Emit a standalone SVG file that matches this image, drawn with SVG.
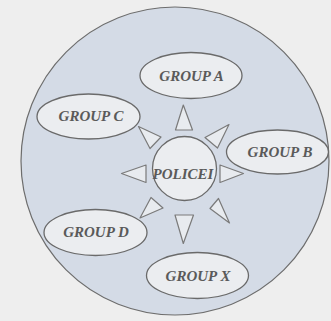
<svg xmlns="http://www.w3.org/2000/svg" width="331" height="321" viewBox="0 0 331 321">
<style>
.grp ellipse{fill:#ebedf0;stroke:#6a6a6a;stroke-width:1.3}
.lbl{font-family:"Liberation Serif","Times New Roman",serif;font-style:italic;font-weight:bold;font-size:15px;fill:#5a5a5a;text-anchor:middle}
.tri polygon{fill:#e8ebef;stroke:#7a7a7a;stroke-width:1.2;stroke-linejoin:round}
</style>
<rect x="0" y="0" width="331" height="321" fill="#eeeeee"/>
<circle id="frame" cx="175" cy="161" r="154" fill="#d4dbe6" stroke="#6d6d6d" stroke-width="1.2"/>
<g id="connectors" class="tri">
<polygon points="183.3,105 175.5,130 192.5,130"/>
<polygon points="229,124.5 205,137.5 217.5,148"/>
<polygon points="243.5,173.5 220,165 220,182.5"/>
<polygon points="229.5,223 210,208.5 218.5,198.5"/>
<polygon points="183.3,243.5 175,215 193.5,215"/>
<polygon points="140,218 151,197.5 163,208"/>
<polygon points="121.5,173.5 146,165 146,182.5"/>
<polygon points="138.5,126.5 161,137 150,148.5"/>
</g>
<g id="police" class="grp">
<circle cx="184.5" cy="168.5" r="32" fill="#ebedf0" stroke="#6a6a6a" stroke-width="1.3"/>
<text class="lbl" x="183" y="178.5" font-size="14">POLICEI</text>
</g>
<g id="groupA" class="grp">
<ellipse cx="191" cy="75.5" rx="51" ry="23"/>
<text class="lbl" x="191.5" y="80.5">GROUP A</text>
</g>
<g id="groupC" class="grp">
<ellipse cx="88.5" cy="116.5" rx="51.5" ry="22.5"/>
<text class="lbl" x="91" y="121">GROUP C</text>
</g>
<g id="groupB" class="grp">
<ellipse cx="277.5" cy="152" rx="51" ry="22"/>
<text class="lbl" x="280" y="157">GROUP B</text>
</g>
<g id="groupD" class="grp">
<ellipse cx="95.5" cy="232.5" rx="51.5" ry="23"/>
<text class="lbl" x="96" y="237">GROUP D</text>
</g>
<g id="groupX" class="grp">
<ellipse cx="197.5" cy="275.5" rx="51" ry="23"/>
<text class="lbl" x="198" y="280.5">GROUP X</text>
</g>
</svg>
